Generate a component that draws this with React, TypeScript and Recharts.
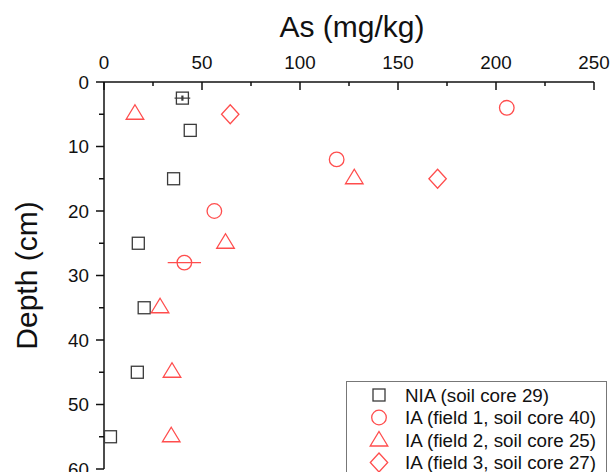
import React from 'react';
import { ScatterChart, Scatter, XAxis, YAxis, ErrorBar, Legend } from 'recharts';

const xTicks = [0, 25, 50, 75, 100, 125, 150, 175, 200, 225, 250];
const yTicks = [0, 5, 10, 15, 20, 25, 30, 35, 40, 45, 50, 55, 60];

const niaCore29 = [
  { x: 40, y: 2.5, ex: 4, ey: 0.4 },
  { x: 44, y: 7.5, ex: 0, ey: 0 },
  { x: 35.5, y: 15, ex: 0, ey: 0 },
  { x: 17.5, y: 25, ex: 0, ey: 0 },
  { x: 20.5, y: 35, ex: 0, ey: 0 },
  { x: 17, y: 45, ex: 0, ey: 0 },
  { x: 3.3, y: 55, ex: 0, ey: 0 },
];
const field1Core40 = [
  { x: 205.5, y: 4, ex: 0 },
  { x: 118.7, y: 12, ex: 0 },
  { x: 56.3, y: 20, ex: 0 },
  { x: 41, y: 28, ex: 8.5 },
];
const field2Core25 = [
  { x: 15.8, y: 5 },
  { x: 127.7, y: 15 },
  { x: 62, y: 25 },
  { x: 28.6, y: 35 },
  { x: 34.7, y: 45 },
  { x: 34.3, y: 55 },
];
const field3Core27 = [
  { x: 64.4, y: 5 },
  { x: 170.2, y: 15 },
];

const legendLabels = [
  'NIA (soil core 29)',
  'IA (field 1, soil core 40)',
  'IA (field 2, soil core 25)',
  'IA (field 3, soil core 27)',
];

const GRAY = '#3a3a3a';
const RED = '#FF4D4D';
const FONT = '"Liberation Sans", Arial, sans-serif';

const SquareMark = ({ cx, cy }: any) => (
  <rect x={cx - 6} y={cy - 6} width={12} height={12} fill="none" stroke={GRAY} strokeWidth={1.3} />
);
const CircleMark = ({ cx, cy }: any) => (
  <circle cx={cx} cy={cy} r={7.3} fill="none" stroke={RED} strokeWidth={1.3} />
);
const TriangleMark = ({ cx, cy }: any) => (
  <path d={`M${cx},${cy - 9.5} L${cx + 8.8},${cy + 5} L${cx - 8.8},${cy + 5} Z`} fill="none" stroke={RED} strokeWidth={1.3} />
);
const DiamondMark = ({ cx, cy }: any) => (
  <path d={`M${cx},${cy - 9.5} L${cx + 8.7},${cy} L${cx},${cy + 9.5} L${cx - 8.7},${cy} Z`} fill="none" stroke={RED} strokeWidth={1.3} />
);

const XTick = (props: any) => {
  const { x, y, payload } = props;
  const major = payload.value % 50 === 0;
  return (
    <g>
      <line x1={x} y1={y} x2={x} y2={y + (major ? 8 : 4)} stroke="#111" strokeWidth={1.5} />
      {major && (
        <text x={x} y={y - 13} textAnchor="middle" fontSize={18.8} fontFamily={FONT} fill="#111">
          {payload.value}
        </text>
      )}
    </g>
  );
};

const YTick = (props: any) => {
  const { x, y, payload } = props;
  const major = payload.value % 10 === 0;
  return (
    <g>
      <line x1={x - (major ? 8 : 5)} y1={y} x2={x} y2={y} stroke="#111" strokeWidth={1.5} />
      {major && (
        <text x={x - 15} y={y} dy="0.36em" textAnchor="end" fontSize={18.8} fontFamily={FONT} fill="#111">
          {payload.value}
        </text>
      )}
    </g>
  );
};

const legendMarks = [
  (cx: number, cy: number) => <SquareMark cx={cx} cy={cy} />,
  (cx: number, cy: number) => <CircleMark cx={cx} cy={cy} />,
  (cx: number, cy: number) => <TriangleMark cx={cx} cy={cy + 1} />,
  (cx: number, cy: number) => <DiamondMark cx={cx} cy={cy} />,
];

const LegendBox = () => (
  <svg width={262} height={100} style={{ display: 'block' }}>
    <rect x={0.5} y={0.5} width={260} height={120} fill="#fff" stroke="#777" strokeWidth={1} />
    {legendLabels.map((label, i) => {
      const cy = 14 + i * 22.5;
      return (
        <g key={label}>
          {legendMarks[i](33, cy)}
          <text x={59} y={cy} dy="0.36em" fontSize={18.8} fontFamily={FONT} fill="#111">
            {label}
          </text>
        </g>
      );
    })}
  </svg>
);

export default function App() {
  return (
    <div style={{ position: 'absolute', left: 0, top: 0, width: 611, height: 472, overflow: 'hidden', background: '#fff' }}>
      <ScatterChart width={611} height={472} margin={{ top: 32, left: 44, right: 17, bottom: 3 }}>
        <XAxis
          type="number"
          dataKey="x"
          orientation="top"
          domain={[0, 250]}
          ticks={xTicks}
          height={50}
          tickSize={0}
          tickMargin={0}
          tickLine={false}
          axisLine={{ stroke: '#111', strokeWidth: 1.5 }}
          tick={<XTick />}
          interval={0}
          label={{
            content: (p: any) => (
              <text
                x={p.viewBox.x + p.viewBox.width / 2 + 3}
                y={p.viewBox.y + 5}
                textAnchor="middle"
                fontSize={30}
                fontFamily={FONT}
                fill="#111"
              >
                As (mg/kg)
              </text>
            ),
          }}
        />
        <YAxis
          type="number"
          dataKey="y"
          reversed
          domain={[0, 60]}
          ticks={yTicks}
          width={60}
          tickSize={0}
          tickMargin={0}
          tickLine={false}
          axisLine={{ stroke: '#111', strokeWidth: 1.5 }}
          tick={<YTick />}
          interval={0}
          label={{
            content: (p: any) => (
              <text
                x={37}
                y={p.viewBox.y + p.viewBox.height / 2}
                transform={`rotate(-90, 37, ${p.viewBox.y + p.viewBox.height / 2})`}
                textAnchor="middle"
                fontSize={30}
                fontFamily={FONT}
                fill="#111"
              >
                Depth (cm)
              </text>
            ),
          }}
        />
        <Legend
          layout="horizontal"
          verticalAlign="middle"
          align="center"
          wrapperStyle={{ left: 346, top: 381, width: 262, height: 100 }}
          content={() => <LegendBox />}
        />
        <Scatter name={legendLabels[0]} data={niaCore29} shape={<SquareMark />} isAnimationActive={false}>
          <ErrorBar dataKey="ex" direction="x" width={0} stroke={GRAY} strokeWidth={1.2} />
          <ErrorBar dataKey="ey" direction="y" width={0} stroke={GRAY} strokeWidth={2.2} />
        </Scatter>
        <Scatter name={legendLabels[1]} data={field1Core40} shape={<CircleMark />} isAnimationActive={false}>
          <ErrorBar dataKey="ex" direction="x" width={0} stroke={RED} strokeWidth={1.3} />
        </Scatter>
        <Scatter name={legendLabels[2]} data={field2Core25} shape={<TriangleMark />} isAnimationActive={false} />
        <Scatter name={legendLabels[3]} data={field3Core27} shape={<DiamondMark />} isAnimationActive={false} />
      </ScatterChart>
    </div>
  );
}
